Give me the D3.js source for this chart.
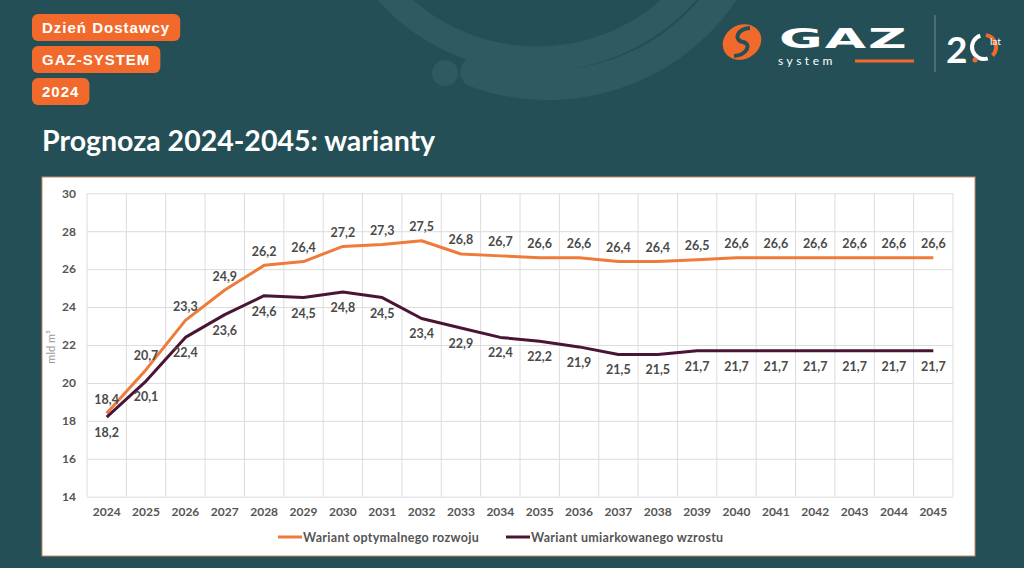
<!DOCTYPE html>
<html>
<head>
<meta charset="utf-8">
<script src="https://cdn.jsdelivr.net/npm/d3@7"></script>
<style>
  body { margin: 0; background: #244f56; }
  svg { display: block; }
</style>
</head>
<body>
<div id="chart"></div>
<script>
// data
const years = ["2024", "2025", "2026", "2027", "2028", "2029", "2030", "2031", "2032", "2033", "2034",
  "2035", "2036", "2037", "2038", "2039", "2040", "2041", "2042", "2043", "2044", "2045"];
const optimal = [18.4, 20.7, 23.3, 24.9, 26.2, 26.4, 27.2, 27.3, 27.5, 26.8, 26.7,
  26.6, 26.6, 26.4, 26.4, 26.5, 26.6, 26.6, 26.6, 26.6, 26.6, 26.6];
const moderate = [18.2, 20.1, 22.4, 23.6, 24.6, 24.5, 24.8, 24.5, 23.4, 22.9, 22.4,
  22.2, 21.9, 21.5, 21.5, 21.7, 21.7, 21.7, 21.7, 21.7, 21.7, 21.7];
const yTicks = [14, 16, 18, 20, 22, 24, 26, 28, 30];
const seriesNames = ["Wariant optymalnego rozwoju", "Wariant umiarkowanego wzrostu"];
const badges = ["Dzień Dostawcy", "GAZ-SYSTEM", "2024"];

(function () {
  const W = 1024, H = 568;
  const orange = "#f26a2b", lineOrange = "#ef7b3b", plum = "#4a1535";
  const font = "Lato, 'DejaVu Sans', sans-serif";

  const svg = d3.select("#chart").append("svg")
    .attr("width", W).attr("height", H);

  svg.append("rect").attr("width", W).attr("height", H).attr("fill", "#244f56");

  // decorative rings at the top
  const deco = svg.append("g").attr("fill", "none").attr("stroke", "#2d5b61").attr("stroke-linecap", "round");
  deco.append("circle").attr("cx", 537).attr("cy", -142).attr("r", 201).attr("stroke-width", 25);
  deco.append("path")
    .attr("transform", "translate(548,-128)")
    .attr("d", () => {
      const r = 213, a0 = 200 * Math.PI / 180, a1 = 65 * Math.PI / 180;
      return `M${r * Math.sin(a0)},${-r * Math.cos(a0)} A${r},${r} 0 0 0 ${r * Math.sin(a1)},${-r * Math.cos(a1)}`;
    })
    .attr("stroke-width", 30);
  svg.append("circle").attr("cx", 445).attr("cy", 73).attr("r", 13).attr("fill", "#2d5b61");

  // badges
  const badgeG = svg.append("g");
  badges.forEach((b, i) => {
    const g = badgeG.append("g").attr("transform", `translate(32,${14 + i * 32})`);
    const t = g.append("text")
      .attr("x", 10).attr("y", 19)
      .attr("fill", "#fff")
      .attr("font-family", "'Liberation Sans', Arial, sans-serif")
      .attr("font-weight", "bold")
      .attr("font-size", 15)
      .attr("letter-spacing", 1)
      .text(b);
    const w = t.node().getComputedTextLength();
    g.insert("rect", "text")
      .attr("width", w + 20).attr("height", 27)
      .attr("rx", 6)
      .attr("fill", orange);
  });

  // title
  svg.append("text")
    .attr("x", 42).attr("y", 151)
    .attr("fill", "#fff")
    .attr("font-family", font)
    .attr("font-weight", "bold")
    .attr("font-size", 28.5)
    .text("Prognoza 2024-2045: warianty");

  // logo
  const logo = svg.append("g");
  logo.append("ellipse").attr("cx", 742).attr("cy", 42).attr("rx", 20).attr("ry", 17)
    .attr("transform", "rotate(-30,742,42)").attr("fill", orange);
  logo.append("path")
    .attr("d", "M750,28 C737,29 733,40 743,42 C752,44 747,55 734,56")
    .attr("fill", "none").attr("stroke", "#244f56").attr("stroke-width", 4);
  logo.append("text")
    .attr("x", 0).attr("y", 0)
    .attr("transform", "translate(779,48) scale(2.05,1)")
    .attr("fill", "#fff")
    .attr("font-family", "'DejaVu Sans', sans-serif")
    .attr("font-weight", "bold")
    .attr("font-size", 26)
    .attr("letter-spacing", 1)
    .text("GAZ");
  logo.append("text")
    .attr("x", 778).attr("y", 65)
    .attr("fill", "#fff")
    .attr("font-family", font)
    .attr("font-size", 12)
    .attr("letter-spacing", 3.5)
    .text("system");
  logo.append("line").attr("x1", 855).attr("x2", 914).attr("y1", 61).attr("y2", 61)
    .attr("stroke", orange).attr("stroke-width", 3);
  logo.append("line").attr("x1", 935).attr("x2", 935).attr("y1", 15).attr("y2", 72)
    .attr("stroke", "#6f8c90").attr("stroke-width", 1);
  logo.append("text")
    .attr("x", 946).attr("y", 63)
    .attr("fill", "#fff")
    .attr("font-family", font)
    .attr("font-weight", "bold")
    .attr("font-size", 37)
    .text("2");
  const ring = d3.arc().innerRadius(10).outerRadius(14);
  logo.append("path").attr("transform", "translate(984,47)")
    .attr("d", ring({ startAngle: -Math.PI * 1.1, endAngle: -Math.PI * 0.1 })).attr("fill", "#fff");
  logo.append("path").attr("transform", "translate(984,47)")
    .attr("d", ring({ startAngle: Math.PI * 0.05, endAngle: Math.PI * 0.75 })).attr("fill", orange);
  logo.append("circle").attr("cx", 975).attr("cy", 60).attr("r", 2.5).attr("fill", orange);
  logo.append("text")
    .attr("x", 990).attr("y", 45)
    .attr("fill", "#fff")
    .attr("font-family", font)
    .attr("font-size", 10)
    .text("lat");

  // chart box
  svg.append("rect")
    .attr("x", 42).attr("y", 177)
    .attr("width", 933).attr("height", 379)
    .attr("fill", "#fff")
    .attr("stroke", "#c98a62")
    .attr("stroke-width", 1);

  const margin = { top: 193.3, left: 87, right: 953, bottom: 496.7 };

  const x = d3.scaleBand()
    .domain(years)
    .range([margin.left, margin.right]);
  const y = d3.scaleLinear()
    .domain([14, 30])
    .range([margin.bottom, margin.top]);

  // vertical grid
  svg.append("g")
    .selectAll("line")
    .data(years.map(d => x(d)).concat([margin.right]))
    .join("line")
    .attr("x1", d => d).attr("x2", d => d)
    .attr("y1", margin.top).attr("y2", margin.bottom)
    .attr("stroke", "#dcdcdc");

  // Y axis with horizontal grid
  const yAxis = svg.append("g")
    .attr("transform", `translate(${margin.left},0)`)
    .call(d3.axisLeft(y).tickValues(yTicks).tickSize(-(margin.right - margin.left)).tickPadding(11));
  yAxis.select(".domain").remove();
  yAxis.selectAll(".tick line").attr("stroke", "#dcdcdc");
  yAxis.selectAll(".tick text")
    .attr("fill", "#555")
    .attr("font-family", font)
    .attr("font-weight", "bold")
    .attr("font-size", 12);

  // X axis
  const xAxis = svg.append("g")
    .attr("transform", `translate(0,${margin.bottom})`)
    .call(d3.axisBottom(x).tickSize(0).tickPadding(11));
  xAxis.select(".domain").remove();
  xAxis.selectAll(".tick text")
    .attr("fill", "#555")
    .attr("font-family", font)
    .attr("font-weight", "bold")
    .attr("font-size", 12);

  // unit label
  svg.append("text")
    .attr("transform", "translate(55,347) rotate(-90)")
    .attr("text-anchor", "middle")
    .attr("fill", "#999")
    .attr("font-family", font)
    .attr("font-size", 11)
    .text("mld m³");

  const cx = d => x(d) + x.bandwidth() / 2;
  const line = d3.line().x(d => cx(d[0])).y(d => y(d[1]));
  const fmt = v => d3.format(".1f")(v).replace(".", ",");

  const series = [
    { values: optimal, color: lineOrange, dy: -9.5 },
    { values: moderate, color: plum, dy: 20 }
  ];

  series.forEach(s => {
    const pts = years.map((yr, i) => [yr, s.values[i]]);
    svg.append("path")
      .datum(pts)
      .attr("fill", "none")
      .attr("stroke", s.color)
      .attr("stroke-width", 3)
      .attr("stroke-linejoin", "round")
      .attr("d", line);
  });

  series.forEach(s => {
    const pts = years.map((yr, i) => [yr, s.values[i]]);
    svg.append("g")
      .selectAll("text")
      .data(pts)
      .join("text")
      .attr("x", d => cx(d[0]))
      .attr("y", d => y(d[1]) + s.dy)
      .attr("text-anchor", "middle")
      .attr("fill", "#4a4a4a")
      .attr("font-family", font)
      .attr("font-weight", "bold")
      .attr("font-size", 12.5)
      .text(d => fmt(d[1]));
  });

  // legend
  const legend = svg.append("g").attr("transform", "translate(278,537)");
  const legendX = [0, 228];
  seriesNames.forEach((name, i) => {
    const g = legend.append("g").attr("transform", `translate(${legendX[i]},0)`);
    g.append("line").attr("x1", 0).attr("x2", 24).attr("y1", 0).attr("y2", 0)
      .attr("stroke", series[i].color).attr("stroke-width", 3);
    g.append("text")
      .attr("x", 25).attr("y", 4.5)
      .attr("fill", "#555")
      .attr("font-family", font)
      .attr("font-weight", "bold")
      .attr("font-size", 12.5)
      .attr("letter-spacing", 0.3)
      .text(name);
  });
})();
</script>
</body>
</html>
